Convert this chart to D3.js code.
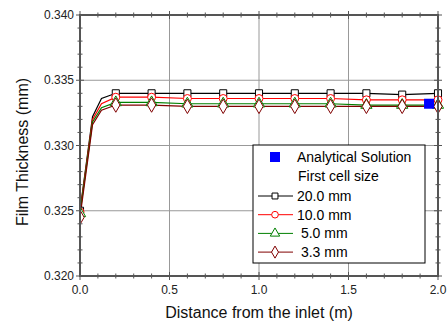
<!DOCTYPE html>
<html>
<head>
<meta charset="utf-8">
<script src="https://cdn.jsdelivr.net/npm/d3@7"></script>
<style>
body { margin: 0; background: #fff; }
text { font-family: "Liberation Sans", Arial, sans-serif; }
</style>
</head>
<body>
<div id="chart"></div>
<script>
var w = 448, h = 329;
var margin = {left: 80, right: 10, top: 15, bottom: 53};

// data
var xs = [0, 0.07, 0.12, 0.2, 0.4, 0.6, 0.8, 1.0, 1.2, 1.4, 1.6, 1.8, 2.0];
var thick20 = [0.3250, 0.3322, 0.3336, 0.3340, 0.3340, 0.3340, 0.3340, 0.3340, 0.3340, 0.3340, 0.3340, 0.3339, 0.3340];
var thick10 = [0.3249, 0.3320, 0.3332, 0.3337, 0.3337, 0.3336, 0.3336, 0.3336, 0.3336, 0.3336, 0.3335, 0.3335, 0.3335];
var thick5 = [0.3248, 0.3318, 0.3329, 0.3333, 0.3333, 0.3332, 0.3332, 0.3332, 0.3332, 0.3332, 0.3331, 0.3331, 0.3331];
var thick33 = [0.3245, 0.3316, 0.3327, 0.3331, 0.3331, 0.3330, 0.3330, 0.3330, 0.3330, 0.3330, 0.3330, 0.3330, 0.3330];
var analytical = {x: 1.95, y: 0.3332};
var seriesNames = ["20.0 mm", "10.0 mm", " 5.0 mm", " 3.3 mm"];
var seriesColors = ["#000000", "#ff0000", "#008000", "#800000"];
var seriesSymbols = [d3.symbolSquare, d3.symbolCircle, d3.symbolTriangle, d3.symbolDiamond];
var seriesSizes = [50, 50, 55, 60];
var xTicks = [0, 0.5, 1.0, 1.5, 2.0];
var yTicks = [0.320, 0.325, 0.330, 0.335, 0.340];

var allSeries = [thick20, thick10, thick5, thick33];

var x = d3.scaleLinear().domain([0, 2]).range([margin.left, w - margin.right]);
var y = d3.scaleLinear().domain([0.320, 0.340]).range([h - margin.bottom, margin.top]);

var svg = d3.select("#chart").append("svg").attr("width", w).attr("height", h);

svg.append("clipPath").attr("id", "plotclip").append("rect")
    .attr("x", x(0)).attr("y", y(0.340))
    .attr("width", x(2) - x(0) + 6).attr("height", y(0.320) - y(0.340));

// grid
svg.append("g").selectAll("line").data(xTicks.slice(1, -1)).enter().append("line")
    .attr("x1", function (d) { return x(d); }).attr("x2", function (d) { return x(d); })
    .attr("y1", y(0.320)).attr("y2", y(0.340))
    .attr("stroke", "#999").attr("stroke-width", 1);
svg.append("g").selectAll("line").data(yTicks.slice(1, -1)).enter().append("line")
    .attr("y1", function (d) { return y(d); }).attr("y2", function (d) { return y(d); })
    .attr("x1", x(0)).attr("x2", x(2))
    .attr("stroke", "#999").attr("stroke-width", 1);

// minor + major ticks
var tickG = svg.append("g").attr("stroke", "#555").attr("stroke-width", 1);
d3.range(0, 21).forEach(function (i) {
    var v = i / 10, major = i % 5 === 0, len = major ? 4 : 2.5;
    tickG.append("line").attr("x1", x(v)).attr("x2", x(v)).attr("y1", y(0.320) - len).attr("y2", y(0.320) + len);
    tickG.append("line").attr("x1", x(v)).attr("x2", x(v)).attr("y1", y(0.340) - len).attr("y2", y(0.340) + len);
});
d3.range(0, 21).forEach(function (i) {
    var v = 0.320 + i * 0.001, major = i % 5 === 0, len = major ? 4 : 2.5;
    tickG.append("line").attr("y1", y(v)).attr("y2", y(v)).attr("x1", x(0) - len).attr("x2", x(0) + len);
    tickG.append("line").attr("y1", y(v)).attr("y2", y(v)).attr("x1", x(2) - len).attr("x2", x(2) + len);
});

// tick labels
svg.append("g").selectAll("text").data(xTicks).enter().append("text")
    .attr("x", function (d) { return x(d); }).attr("y", y(0.320) + 18)
    .attr("text-anchor", "middle").attr("font-size", 12).attr("fill", "#222")
    .text(function (d) { return d3.format(".1f")(d); });
svg.append("g").selectAll("text").data(yTicks).enter().append("text")
    .attr("x", x(0) - 6).attr("y", function (d) { return y(d) + 4; })
    .attr("text-anchor", "end").attr("font-size", 12).attr("fill", "#222")
    .text(function (d) { return d3.format(".3f")(d); });

// axis titles
svg.append("text").attr("x", (x(0) + x(2)) / 2).attr("y", 318)
    .attr("text-anchor", "middle").attr("font-size", 16).attr("fill", "#111")
    .text("Distance from the inlet (m)");
svg.append("text").attr("transform", "translate(28,152) rotate(-90)")
    .attr("text-anchor", "middle").attr("font-size", 16).attr("fill", "#111")
    .text("Film Thickness (mm)");

// lines
var line = d3.line()
    .x(function (d, i) { return x(xs[i]); })
    .y(function (d) { return y(d); });

var plot = svg.append("g").attr("clip-path", "url(#plotclip)");

allSeries.forEach(function (s, k) {
    plot.append("path").datum(s)
        .attr("d", line)
        .attr("fill", "none").attr("stroke", seriesColors[k]).attr("stroke-width", 1.2);
});

allSeries.forEach(function (s, k) {
    var pts = s.map(function (v, i) { return {x: xs[i], y: v}; })
        .filter(function (d) { return Math.abs(d.x * 5 - Math.round(d.x * 5)) < 1e-6; });
    plot.append("g").selectAll("path").data(pts).enter().append("path")
        .attr("transform", function (d) { return "translate(" + x(d.x) + "," + y(d.y) + ")"; })
        .attr("d", d3.symbol().type(seriesSymbols[k]).size(seriesSizes[k]))
        .attr("fill", "#fff").attr("stroke", seriesColors[k]).attr("stroke-width", 1);
});

// analytical solution
plot.append("rect")
    .attr("x", x(analytical.x) - 5).attr("y", y(analytical.y) - 5)
    .attr("width", 10).attr("height", 10).attr("fill", "#0000ff");

// frame
svg.append("rect")
    .attr("x", x(0)).attr("y", y(0.340))
    .attr("width", x(2) - x(0)).attr("height", y(0.320) - y(0.340))
    .attr("fill", "none").attr("stroke", "#555").attr("stroke-width", 2);

// legend
var lg = svg.append("g");
lg.append("rect").attr("x", 253).attr("y", 145).attr("width", 172).attr("height", 118)
    .attr("fill", "#fff").attr("stroke", "#000").attr("stroke-width", 1);
lg.append("rect").attr("x", 270).attr("y", 152).attr("width", 10).attr("height", 10).attr("fill", "#0000ff");
lg.append("text").attr("x", 297).attr("y", 162).attr("font-size", 14).attr("fill", "#000").text("Analytical Solution");
lg.append("text").attr("x", 298).attr("y", 181).attr("font-size", 14).attr("fill", "#000").text("First cell size");
seriesNames.forEach(function (name, k) {
    var yy = 196 + k * 18.7;
    lg.append("line").attr("x1", 258).attr("x2", 293).attr("y1", yy).attr("y2", yy)
        .attr("stroke", seriesColors[k]).attr("stroke-width", 1);
    lg.append("path").attr("transform", "translate(275," + yy + ")")
        .attr("d", d3.symbol().type(seriesSymbols[k]).size(seriesSizes[k] * 0.7))
        .attr("fill", "#fff").attr("stroke", seriesColors[k]);
    lg.append("text").attr("x", 297).attr("y", yy + 5).attr("font-size", 14)
        .attr("fill", "#000").attr("xml:space", "preserve").style("white-space", "pre").text(name);
});
</script>
</body>
</html>
